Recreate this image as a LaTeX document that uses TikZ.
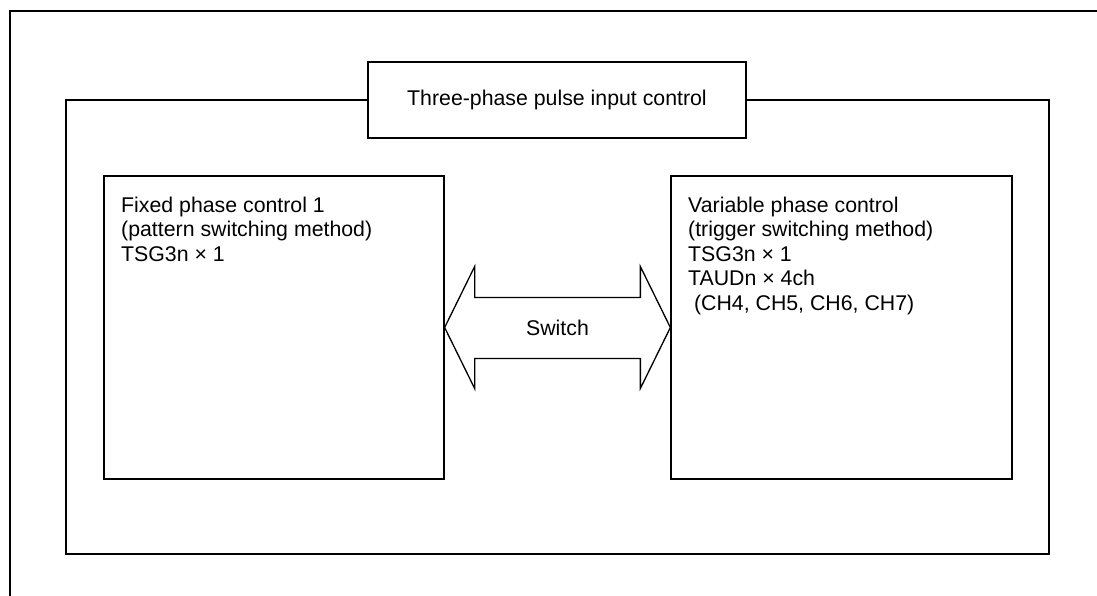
\documentclass[tikz,border=0pt]{standalone}
\usepackage{fontspec}
\setmainfont{Liberation Sans}
\usetikzlibrary{calc}
\begin{document}
\begin{tikzpicture}[x=1pt,y=-1pt,
  lbl/.style={font={\fontsize{21.3}{24.5}\selectfont}, inner sep=0pt},
  box/.style={draw, line width=1.3pt, fill=white, inner sep=0pt},
  frameline/.style={line width=1.3pt},
  outerline/.style={line width=2pt}]
\useasboundingbox (0,0) rectangle (1097,595);
% outer frame (only top and left visible)
\coordinate (obl) at (10,597);
\coordinate (otl) at (10,11);
\coordinate (otr) at (1099,11);
\draw[outerline] (obl) -- (otl) -- (otr);
% title
\node[box, lbl, minimum width=378pt, minimum height=76pt] (title) at (557,100) {Three-phase pulse input control};
% inner frame
\coordinate (ftl) at (66,100);
\coordinate (fbl) at (66,554);
\coordinate (fbr) at (1049,554);
\coordinate (ftr) at (1049,100);
\draw[frameline] (title.west) -- (ftl) -- (fbl) -- (fbr) -- (ftr) -- (title.east);
% boxes
\node[box, minimum width=340pt, minimum height=303pt] (L) at (274,327.5) {};
\node[box, minimum width=341pt, minimum height=303pt] (R) at (841.5,327.5) {};
\node[lbl, anchor=north west, align=left] (Ltxt) at (121,196.5)
  {Fixed phase control 1\\(pattern switching method)\\TSG3n × 1};
\node[lbl, anchor=north west, align=left] (Rtxt) at (688,196.5)
  {Variable phase control\\(trigger switching method)\\TSG3n × 1\\TAUDn × 4ch\\\hspace*{0.278em}(CH4, CH5, CH6, CH7)};
% double arrow
\draw[frameline, line join=miter]
  (L.east) -- ($(L.east)+(30,-61)$) -- ($(L.east)+(30,-30)$)
  -- ($(R.west)+(-30,-30)$) -- ($(R.west)+(-30,-61)$) -- (R.west)
  -- ($(R.west)+(-30,61)$) -- ($(R.west)+(-30,31)$)
  -- ($(L.east)+(30,31)$) -- ($(L.east)+(30,61)$) -- cycle;
\node[lbl] (sw) at ($(L.east)!0.5!(R.west)$) {Switch};
\end{tikzpicture}
\end{document}
